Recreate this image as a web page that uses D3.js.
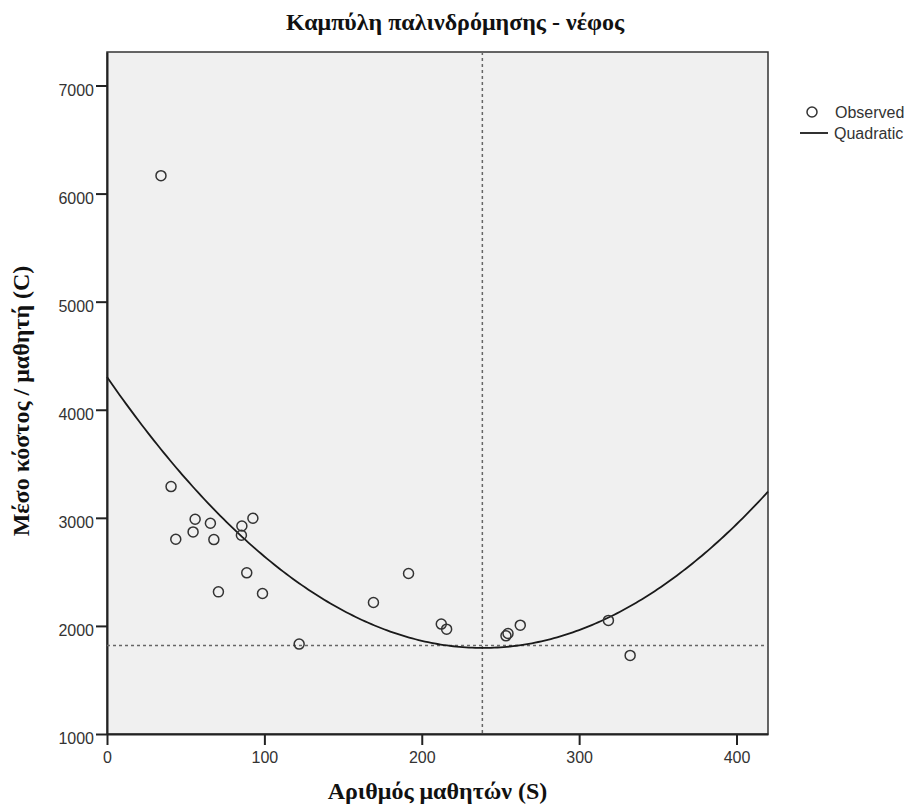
<!DOCTYPE html>
<html>
<head>
<meta charset="utf-8">
<script src="https://cdn.jsdelivr.net/npm/d3@7"></script>
<style>
  body { margin: 0; background: #fff; }
  .tick text { font-family: "Liberation Sans", Arial, sans-serif; font-size: 16px; fill: #333; }
  .axisTitle { font-family: "Liberation Serif", "Times New Roman", serif; font-weight: bold; fill: #111; }
  .legendText { font-family: "Liberation Sans", Arial, sans-serif; font-size: 16px; fill: #333; }
</style>
</head>
<body>
<div id="chart"></div>
<script>
var students = [34.3, 40.7, 43.7, 54.7, 56.0, 65.7, 67.9, 70.8, 85.4, 85.7, 88.8, 92.7, 98.8,
  122.1, 169.3, 191.6, 212.4, 215.8, 253.5, 254.8, 262.6, 318.6, 332.4];
var avgCost = [6166, 3289, 2802, 2870, 2987, 2950, 2799, 2315, 2839, 2925, 2491, 2996, 2300,
  1832, 2217, 2485, 2017, 1970, 1908, 1930, 2007, 2051, 1727];

var xTicks = [0, 100, 200, 300, 400];
var yTicks = [1000, 2000, 3000, 4000, 5000, 6000, 7000];
// reference lines (dashed)
var refS = 238.5;
var refC = 1818;

var svgWidth = 908;
var svgHeight = 805;

var margin = { top: 52, right: 140, bottom: 71, left: 107 };
var width = svgWidth - margin.left - margin.right;   // 661
var height = svgHeight - margin.top - margin.bottom; // 682

var svg = d3.select("#chart")
  .append("svg")
  .attr("width", svgWidth)
  .attr("height", svgHeight);

var chartGroup = svg.append("g")
  .attr("transform", `translate(${margin.left}, ${margin.top})`);

var xScale = d3.scaleLinear().domain([0, 420]).range([0, width]);
var yScale = d3.scaleLinear().domain([1000, 7310]).range([height, 0]);

// quadratic least squares fit of the observed points
function quadFit(xs, ys) {
  var n = xs.length, s = [0, 0, 0, 0, 0], t = [0, 0, 0];
  for (var i = 0; i < n; i++) {
    var p = 1;
    for (var k = 0; k < 5; k++) { s[k] += p; if (k < 3) t[k] += p * ys[i]; p *= xs[i]; }
  }
  var A = [[s[0], s[1], s[2], t[0]], [s[1], s[2], s[3], t[1]], [s[2], s[3], s[4], t[2]]];
  for (var c = 0; c < 3; c++) {
    for (var r = c + 1; r < 3; r++) {
      var f = A[r][c] / A[c][c];
      for (var j = c; j < 4; j++) A[r][j] -= f * A[c][j];
    }
  }
  var b = [0, 0, 0];
  for (var r2 = 2; r2 >= 0; r2--) {
    var v = A[r2][3];
    for (var j2 = r2 + 1; j2 < 3; j2++) v -= A[r2][j2] * b[j2];
    b[r2] = v / A[r2][r2];
  }
  return b;
}
var coef = quadFit(students, avgCost);

// plot background
chartGroup.append("rect")
  .attr("width", width)
  .attr("height", height)
  .attr("fill", "#f0f0f0")
  .attr("stroke", "#333")
  .attr("stroke-width", 1.5);

// axes
var bottomAxis = d3.axisBottom(xScale).tickValues(xTicks).tickSize(11).tickSizeOuter(0)
  .tickFormat(d3.format("d"));
var leftAxis = d3.axisLeft(yScale).tickValues(yTicks).tickSize(11).tickSizeOuter(0)
  .tickFormat(d3.format("d"));

var gx = chartGroup.append("g")
  .attr("transform", `translate(0, ${height})`)
  .call(bottomAxis);
gx.select(".domain").attr("stroke", "#222").attr("stroke-width", 2);
gx.selectAll(".tick line").attr("stroke", "#222").attr("stroke-width", 2);
gx.selectAll(".tick text").attr("y", 18).attr("dy", "0.71em");

var gy = chartGroup.append("g").call(leftAxis);
gy.select(".domain").attr("stroke", "#222").attr("stroke-width", 2);
gy.selectAll(".tick line").attr("stroke", "#222").attr("stroke-width", 2);
gy.selectAll(".tick text").attr("x", -13).attr("dy", "0.6em");

// dashed reference lines
chartGroup.append("line")
  .attr("x1", xScale(refS)).attr("x2", xScale(refS))
  .attr("y1", 0).attr("y2", height)
  .attr("stroke", "#666").attr("stroke-width", 1.5)
  .attr("stroke-dasharray", "3,3");
chartGroup.append("line")
  .attr("x1", 0).attr("x2", width)
  .attr("y1", yScale(refC)).attr("y2", yScale(refC))
  .attr("stroke", "#666").attr("stroke-width", 1.5)
  .attr("stroke-dasharray", "3,3");

// fitted curve
var curvePts = d3.range(0, 420.5, 2).map(function(s) {
  return [s, coef[0] + coef[1] * s + coef[2] * s * s];
});
var line = d3.line()
  .x(d => xScale(d[0]))
  .y(d => yScale(d[1]));
chartGroup.append("path")
  .datum(curvePts)
  .attr("d", line)
  .attr("fill", "none")
  .attr("stroke", "#1a1a1a")
  .attr("stroke-width", 1.8);

// observed points
chartGroup.selectAll("circle.obs")
  .data(students)
  .enter()
  .append("circle")
  .attr("class", "obs")
  .attr("cx", d => xScale(d))
  .attr("cy", (d, i) => yScale(avgCost[i]))
  .attr("r", 5)
  .attr("fill", "none")
  .attr("stroke", "#333")
  .attr("stroke-width", 1.5);

// title and axis labels
svg.append("text")
  .attr("class", "axisTitle")
  .attr("x", 455)
  .attr("y", 30)
  .attr("text-anchor", "middle")
  .attr("font-size", "24px")
  .text("Καμπύλη παλινδρόμησης - νέφος");

svg.append("text")
  .attr("class", "axisTitle")
  .attr("x", margin.left + width / 2)
  .attr("y", 799)
  .attr("text-anchor", "middle")
  .attr("font-size", "24px")
  .text("Αριθμός μαθητών (S)");

svg.append("text")
  .attr("class", "axisTitle")
  .attr("transform", "translate(29, 401) rotate(-90)")
  .attr("text-anchor", "middle")
  .attr("font-size", "24px")
  .text("Μέσο κόστος / μαθητή (C)");

// legend
var legend = svg.append("g").attr("transform", "translate(800, 112)");
legend.append("circle")
  .attr("cx", 12).attr("cy", 0).attr("r", 5)
  .attr("fill", "none").attr("stroke", "#333").attr("stroke-width", 1.5);
legend.append("text")
  .attr("class", "legendText")
  .attr("x", 35).attr("y", 6)
  .text("Observed");
legend.append("line")
  .attr("x1", 0).attr("x2", 28).attr("y1", 21).attr("y2", 21)
  .attr("stroke", "#1a1a1a").attr("stroke-width", 1.8);
legend.append("text")
  .attr("class", "legendText")
  .attr("x", 34).attr("y", 27)
  .text("Quadratic");
</script>
</body>
</html>
